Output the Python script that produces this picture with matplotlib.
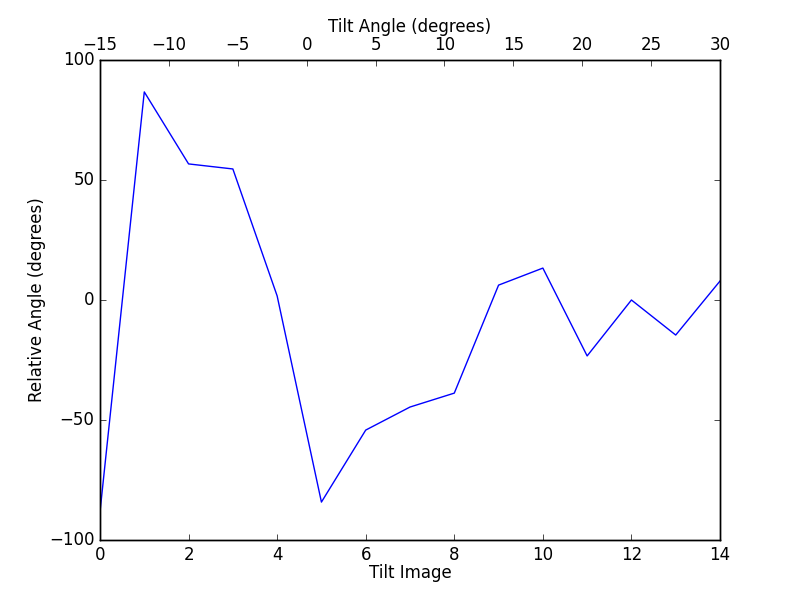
import matplotlib
matplotlib.use('Agg')
import matplotlib.pyplot as plt

plt.style.use('classic')

# Relative angle for each tilt image
tilt_image = [0, 1, 2, 3, 4, 5, 6, 7, 8, 9, 10, 11, 12, 13, 14]
relative_angle = [-88.3, 86.7, 56.7, 54.6, 1.7, -84.2, -54.2, -44.6, -38.8,
                  6.2, 13.3, -23.3, 0.0, -14.6, 7.9]

# Tilt angle range shown on the top axis
tilt_angle_range = (-15, 30)

fig = plt.figure(figsize=(8, 6), dpi=100)
ax = fig.add_subplot(111)
ax.plot(tilt_image, relative_angle, color='b')
ax.set_xlim(0, 14)
ax.set_ylim(-100, 100)
ax.set_yticks([-100, -50, 0, 50, 100])
ax.set_xlabel('Tilt Image', labelpad=0)
ax.set_ylabel('Relative Angle (degrees)', labelpad=2)
ax.tick_params(axis='x', top=False)

ax2 = ax.twiny()
ax2.set_xlim(*tilt_angle_range)
ax2.set_xticks(range(-15, 31, 5))
ax2.set_xlabel('Tilt Angle (degrees)', labelpad=3)
ax2.tick_params(axis='x', bottom=False)

fig.savefig('out.png', dpi=100)
